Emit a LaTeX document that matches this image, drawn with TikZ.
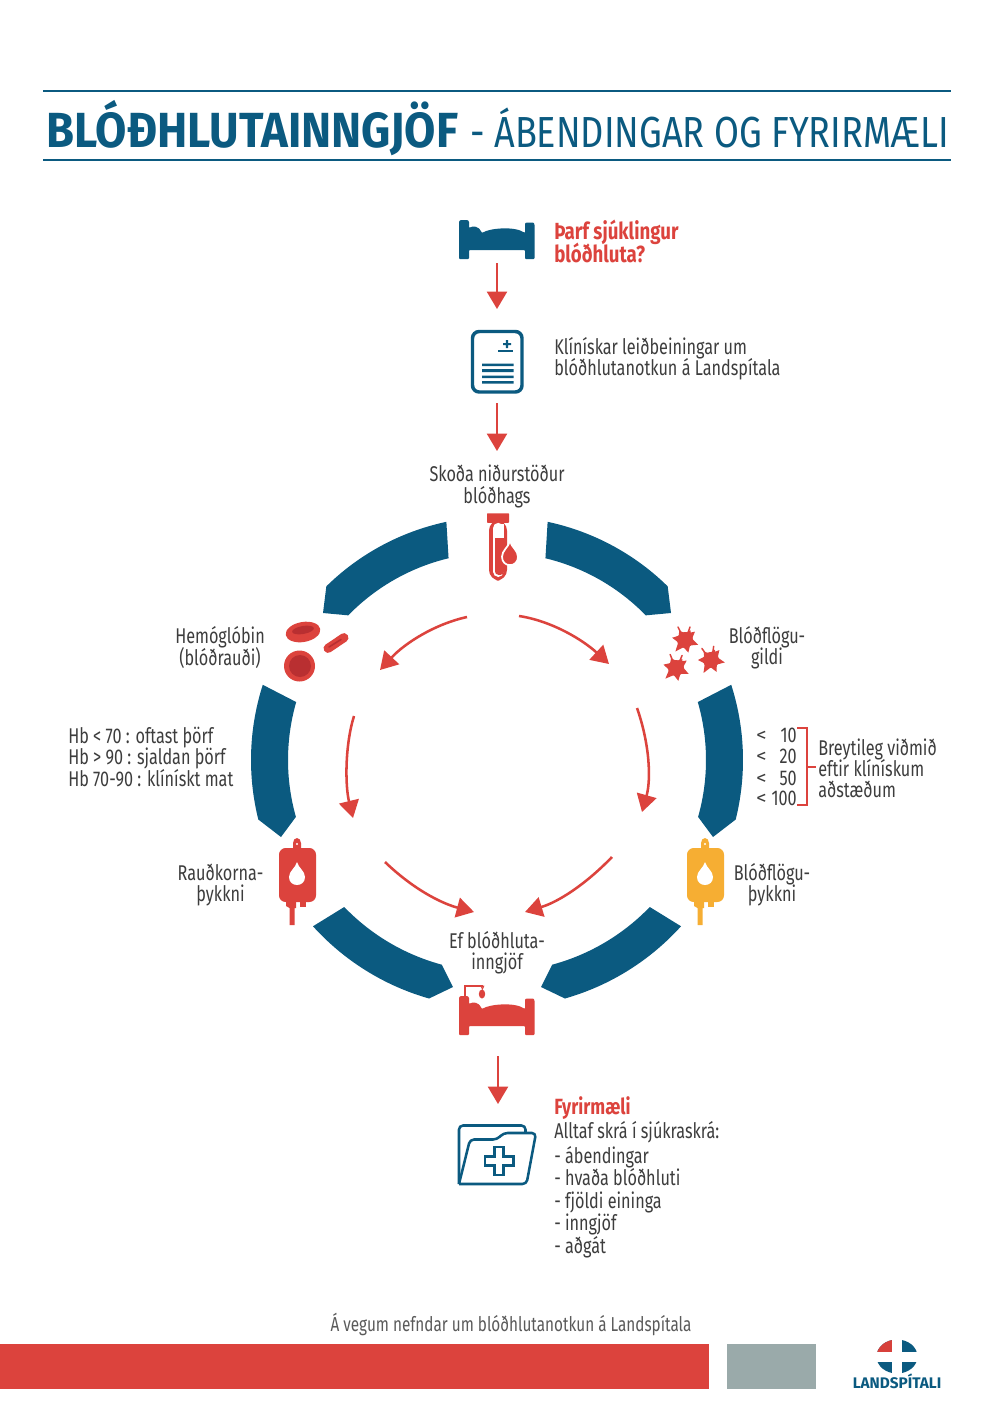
\documentclass[tikz,border=0pt]{standalone}
\usepackage{fontspec}
\usetikzlibrary{arrows.meta}
\setmainfont{Fira Sans}
\newfontfamily\bodyf[FakeStretch=0.76]{Fira Sans}
\newfontfamily\headf[FakeStretch=0.80]{Fira Sans}
\newfontfamily\titlef[FakeStretch=0.83]{Fira Sans}
\newfontfamily\titleb[FakeStretch=0.92]{Fira Sans}
\newfontfamily\ltf[FakeStretch=1.1]{Fira Sans}
\lineskiplimit=-20pt
\normallineskiplimit=-20pt
\definecolor{lblue}{HTML}{0B5A80}
\definecolor{lred}{HTML}{DC433D}
\definecolor{dred}{HTML}{B92F31}
\definecolor{lyellow}{HTML}{F6AE33}
\definecolor{lgrey}{HTML}{9AAAAA}
\definecolor{ltext}{HTML}{3D3D3D}
\tikzset{
  x=0.75pt,y=-0.75pt,
  body/.style={font=\bodyf\fontsize{16}{15.9}\selectfont,text=ltext,inner sep=0pt,align=center},
  bodyl/.style={body,align=left,anchor=west},
  bodyb/.style={body,anchor=base west},
  redhead/.style={font=\headf\bfseries\fontsize{17.5}{17.2}\selectfont,text=lred,inner sep=0pt,align=left,anchor=west},
  redarrow/.style={draw=lred,line width=1.6pt,-{Triangle[length=13pt,width=15pt,fill=lred]}},
  curvearrow/.style={draw=lred,line width=1.9pt,-{Triangle[length=13pt,width=15pt,fill=lred]}},
  ring/.style={fill=lblue,draw=none},
}
\newcommand\ringarc[4]{plot[domain=#2:#3,samples=36] ({497+#1*#4*cos(\x)},{760+#4*sin(\x)})}
\newcommand\dropshape{(0,0) .. controls (1.5,6) and (8,9) .. (8,15) .. controls (8,20) and (4.4,23) .. (0,23) .. controls (-4.4,23) and (-8,20) .. (-8,15) .. controls (-8,9) and (-1.5,6) .. (0,0) -- cycle}
\newcommand\bedicon[1]{\fill[#1,rounded corners=0.6pt]
  (459,223) .. controls (459,221) and (460,220) .. (462,220) -- (466,220) .. controls (468,220) and (469,221) .. (469,223) -- (469,228)
  .. controls (473,225.5) and (479,226) .. (482,233)
  .. controls (490,228) and (515,226) .. (525,233)
  -- (525,225) .. controls (525,223) and (526,222.5) .. (528,222.5) -- (532,222.5) .. controls (534,222.5) and (534.5,224) .. (534.5,226)
  -- (534.5,259) -- (525,259) -- (525,250) -- (469,250) -- (469,259) -- (459,259) -- cycle;}
\newcommand\bagicon[1]{%
  \fill[#1] (293,850) -- (293,843) .. controls (293,840) and (295,838) .. (297,838) .. controls (299,838) and (301,840) .. (301,843) -- (301,850) -- cycle;
  \fill[white] (297,844) circle[radius=1.1];
  \fill[#1,rounded corners=5pt] (279,848) rectangle (316,902);
  \fill[#1] (300,900) rectangle (306,906.5);
  \fill[#1] (286,900) -- (296,900) -- (296,908) -- (294.5,908) -- (294.5,925) -- (289.5,925) -- (289.5,908) -- (286,906) -- cycle;
  \fill[white,shift={(297,862)}] \dropshape;}
\newcommand\platelet[3]{%
  \begin{scope}[shift={(#1,#2)},rotate=#3]
  \fill[lred] (0,0) circle[radius=8];
  \foreach \a/\l in {-40/13,20/14,75/13,130/15,190/13,238/11,300/11}{
    \fill[lred] (\a-32:7) -- (\a:\l) -- (\a+32:7) -- cycle;}
  \draw[lred,line width=1.1pt,line cap=round] (-4,-7) -- (-7,-13) (3,-7) -- (5,-13);
  \end{scope}}
\begin{document}
\begin{tikzpicture}
\useasboundingbox (0,0) rectangle (992,1403);
\fill[white] (0,0) rectangle (992,1403);

% title
\draw[lblue,line width=1.5pt] (43,91) -- (951,91);
\draw[lblue,line width=1.5pt] (43,160) -- (951,160);
\node[anchor=base west,inner sep=0pt,text=lblue,font=\titleb\bfseries\fontsize{37}{37}\selectfont] (title1) at (46,147) {BLÓÐHLUTAINNGJÖF};
\node[anchor=base west,inner sep=0pt,text=lblue,font=\titlef\fontsize{32.6}{33}\selectfont] (title2) at (470,147) {- ÁBENDINGAR OG FYRIRMÆLI};

% top bed
\bedicon{lblue}
\coordinate (bedbot) at (497,263);
\coordinate (clipA) at (497,309);
\draw[redarrow] (bedbot) -- (clipA);
\node[redhead] (q) at (554,241) {Þarf sjúklingur\\blóðhluta?};

% clipboard
\draw[lblue,line width=2.6pt,rounded corners=5pt] (472.5,331.5) rectangle (522,392);
\fill[lblue] (503,343) rectangle (511,345.2) (505.9,340) rectangle (508.1,348);
\fill[lblue] (498,350.3) rectangle (513,351.8);
\fill[lblue] (482,363.5) rectangle (513.5,366) (482,369) rectangle (513.5,372) (482,375.5) rectangle (513.5,378) (482,381) rectangle (513.5,383.5);
\node[bodyl] (guide) at (554,359) {Klínískar leiðbeiningar um\\blóðhlutanotkun á Landspítala};
\coordinate (clipB) at (497,403);
\coordinate (skoda) at (497,451);
\draw[redarrow] (clipB) -- (skoda);
\node[body] (check) at (497,486.5) {Skoða niðurstöður\\blóðhags};

% test tube
\fill[lred,rounded corners=0.5pt] (487,513.3) rectangle (509,522.8);
\fill[lred,rounded corners=8pt] (489,520) -- (489,580.5) -- (507,580.5) -- (507,520) -- cycle;
\fill[white,rounded corners=4pt] (493,522.8) -- (493,577) -- (503.5,577) -- (503.5,522.8) -- cycle;
\fill[lred,rounded corners=2.5pt] (495,538) -- (495,574.8) -- (504,574.8) -- (504,538) -- cycle;
\fill[lred] (495,538) rectangle (504,545);
\fill[white] (497,524) rectangle (503.5,538);
\filldraw[lred,draw=white,line width=1.3pt,shift={(510,541)},yscale=1.05] \dropshape;

% ring segments
\fill[ring] \ringarc{1}{258}{225.5}{243.5} -- (323,613) -- plot[domain=224.2:256.5,samples=36] ({497+207.5*cos(\x)},{760+207.5*sin(\x)}) -- cycle;
\fill[ring] \ringarc{-1}{258}{225.5}{243.5} -- (671,613) -- plot[domain=224.2:256.5,samples=36] ({497-207.5*cos(\x)},{760+207.5*sin(\x)}) -- cycle;
\fill[ring] \ringarc{1}{-17.8}{14}{246} -- (713,837) -- plot[domain=15.8:-16.1,samples=36] ({497+209*cos(\x)},{760+209*sin(\x)}) -- cycle;
\fill[ring] \ringarc{-1}{-17.8}{14}{246} -- (281,837) -- plot[domain=15.8:-16.1,samples=36] ({497-209*cos(\x)},{760+209*sin(\x)}) -- cycle;
\fill[ring] \ringarc{-1}{42.1}{74.1}{248} -- (453,987) -- plot[domain=74.9:43.9,samples=36] ({497-212*cos(\x)},{760+212*sin(\x)}) -- cycle;
\fill[ring] \ringarc{1}{42.1}{74.1}{248} -- (541,987) -- plot[domain=74.9:43.9,samples=36] ({497+212*cos(\x)},{760+212*sin(\x)}) -- cycle;

% curved arrows
\coordinate (a1s) at (467,617); \coordinate (a1e) at (380,670);
\coordinate (a2s) at (519,616); \coordinate (a2e) at (609,664);
\coordinate (a3s) at (354,716); \coordinate (a3e) at (353,818);
\coordinate (a4s) at (637,708); \coordinate (a4e) at (642,812);
\coordinate (a5s) at (385,862); \coordinate (a5e) at (474,912);
\coordinate (a6s) at (612,857); \coordinate (a6e) at (525,912);
\draw[curvearrow] (a1s) .. controls (435,624) and (405,643) .. (a1e);
\draw[curvearrow] (a2s) .. controls (552,621) and (583,640) .. (a2e);
\draw[curvearrow] (a3s) .. controls (345,745) and (345,785) .. (a3e);
\draw[curvearrow] (a4s) .. controls (650,745) and (651,780) .. (a4e);
\draw[curvearrow] (a5s) .. controls (412,888) and (440,903) .. (a5e);
\draw[curvearrow] (a6s) .. controls (585,885) and (558,902) .. (a6e);

% red blood cells
\fill[lred,rotate around={10:(303,632)}] (303,632) ellipse[x radius=17.5,y radius=10];
\fill[dred,rotate around={10:(303,630)}] (303,630) ellipse[x radius=11,y radius=4];
\fill[lred,rounded corners=3.2pt,rotate around={34:(336,643)}] (322,638.5) rectangle (350,647.5);
\draw[dred,line width=1.2pt,line cap=round] (329,647) -- (341,639.5);
\fill[lred] (299.5,666) circle[radius=15.5];
\fill[dred] (300,666) circle[radius=11];
\node[body] (hemo) at (220,647.5) {Hemóglóbin\\(blóðrauði)};

% platelets
\platelet{685}{640}{0}
\platelet{711}{660}{10}
\platelet{676}{668}{-5}
\node[body] (pltv) at (767,648) {Blóðflögu-\\gildi};

% left Hb text
\node[bodyl] (hb) at (68,757) {Hb < 70 : oftast þörf\\Hb > 90 : sjaldan þörf\\Hb 70-90 : klínískt mat};

% thresholds
\foreach \nm/\v/\yy in {t1/10/742,t2/20/763.5,t3/50/785,t4/100/805}{
  \node[anchor=base east,inner sep=0pt,font=\bodyf\fontsize{16}{16}\selectfont,text=ltext] (\nm) at (797,\yy) {\v};
}
\foreach \nm/\yy in {l1/741,l2/762.5,l3/784,l4/804}{
  \node[anchor=base west,inner sep=0pt,font=\ltf\fontsize{14}{14}\selectfont,text=ltext] (\nm) at (756,\yy) {<};
}
\draw[lred,line width=1pt] (797,728) -- (807,728) -- (807,805) -- (797,805);
\draw[lred,line width=1pt] (807,767) -- (816,767);
\node[bodyl] (vary) at (818,768.5) {Breytileg viðmið\\eftir klínískum\\aðstæðum};

% bags
\begin{scope}\bagicon{lred}\end{scope}
\begin{scope}[shift={(408,0)}]\bagicon{lyellow}\end{scope}
\node[body] (rbc) at (220.5,885) {Rauðkorna-\\þykkni};
\node[body] (plt) at (772,885) {Blóðflögu-\\þykkni};

% transfusion
\node[body] (ef) at (497,952.5) {Ef blóðhluta-\\inngjöf};
\begin{scope}[shift={(0,776)}]\bedicon{lred}\end{scope}
\draw[lred,line width=0.8pt] (465,997) -- (465,986) -- (483,986);
\draw[lred,line width=0.7pt] (481,986) -- (482.5,989) -- (484,985.5);
\fill[lred] (482,994) ellipse[x radius=3.2,y radius=4.5];
\coordinate (bedr) at (498,1056);
\coordinate (fold) at (498,1104);
\draw[redarrow] (bedr) -- (fold);

% folder
\draw[lblue,line width=1.9pt,line join=round,rounded corners=3pt] (459,1184) -- (459,1125.5) -- (525.5,1125.5) -- (525.5,1132.5);
\draw[lblue,line width=1.9pt,line join=round,rounded corners=3pt] (459,1184) -- (526.5,1184) -- (536,1133) -- (503.5,1133) -- (497,1139.5) -- (470,1139.5) -- (459,1184);
\draw[lblue,line width=1.6pt,fill=white] (494.5,1147) -- (503.5,1147) -- (503.5,1156.5) -- (513.5,1156.5) -- (513.5,1165.5) -- (503.5,1165.5) -- (503.5,1175) -- (494.5,1175) -- (494.5,1165.5) -- (485,1165.5) -- (485,1156.5) -- (494.5,1156.5) -- cycle;
\node[anchor=base west,inner sep=0pt,text=lred,font=\headf\bfseries\fontsize{16.5}{17}\selectfont] (fyrir) at (554,1114) {Fyrirmæli};
\node[bodyb] (alltaf) at (554,1138) {Alltaf skrá í sjúkraskrá:};
\foreach \nm/\t/\yy in {i1/ábendingar/1163,i2/hvaða blóðhluti/1185.5,i3/fjöldi eininga/1208,i4/inngjöf/1230.5,i5/aðgát/1253}{
  \node[bodyb] (\nm) at (554,\yy) {- \t};
}

% footer
\node[inner sep=0pt,text=ltext!85,font=\bodyf\fontsize{15.1}{15}\selectfont] (foot) at (511,1324) {Á vegum nefndar um blóðhlutanotkun á Landspítala};
\fill[lred] (0,1344) rectangle (709,1389);
\fill[lgrey] (727,1344) rectangle (816,1389);

% logo
\begin{scope}
\clip (897,1356.5) ellipse[x radius=20.5,y radius=17];
\fill[lblue] (870,1335) rectangle (925,1378);
\fill[lred!85!dred] (870,1335) rectangle (897,1356);
\end{scope}
\fill[white] (892,1336) rectangle (902,1376);
\fill[white] (874,1351.5) rectangle (920,1361.5);
\node[anchor=base,inner sep=0pt,text=lblue,font=\rmfamily\bfseries\fontsize{11.5}{12}\selectfont] (logo) at (897,1388) {LANDSPÍTALI};
\end{tikzpicture}
\end{document}
